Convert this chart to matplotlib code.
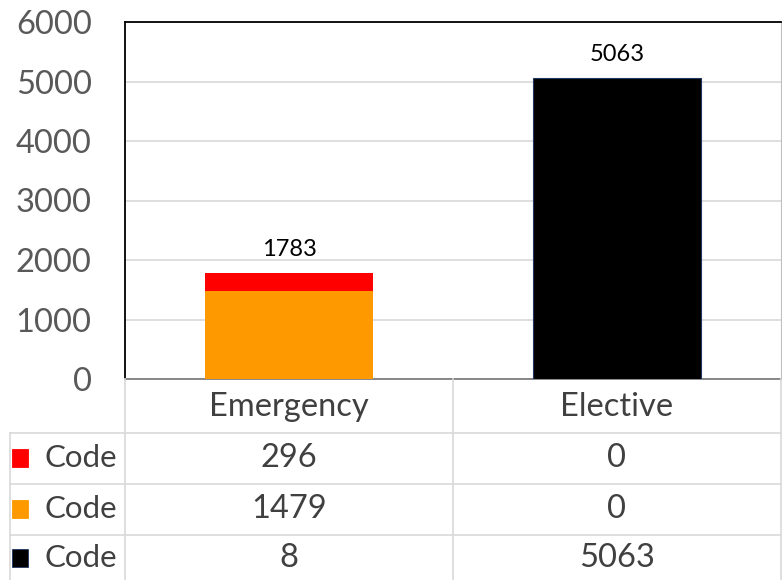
import matplotlib
matplotlib.use("Agg")
import matplotlib.pyplot as plt
from matplotlib.transforms import blended_transform_factory
from matplotlib.patches import Rectangle
from matplotlib.lines import Line2D

categories = ["Emergency", "Elective"]
series_names = ["Code", "Code", "Code"]
red_vals = [296, 0]
orange_vals = [1479, 0]
black_vals = [8, 5063]
totals = [1783, 5063]
yticks = [0, 1000, 2000, 3000, 4000, 5000, 6000]

colors = {"red": "#FF0000", "orange": "#FF9900", "black": "#000000"}

plt.rcParams['font.family'] = ['Lato', 'DejaVu Sans']

W, H = 782, 580
fig = plt.figure(figsize=(W / 100, H / 100), dpi=100)
ax_l, ax_r, ax_t, ax_b = 125, 781, 22, 379
ax = fig.add_axes([ax_l / W, 1 - ax_b / H, (ax_r - ax_l) / W, (ax_b - ax_t) / H])

x = list(range(len(categories)))
bw = 0.51
ax.bar(x, black_vals, bw, color=colors["black"], edgecolor="#1F3864", linewidth=0.8, zorder=3)
b2 = [b for b in black_vals]
ax.bar(x, orange_vals, bw, bottom=b2, color=colors["orange"], zorder=3)
b3 = [b + o for b, o in zip(black_vals, orange_vals)]
ax.bar(x, red_vals, bw, bottom=b3, color=colors["red"], zorder=3)

for xi, t in zip(x, totals):
    ax.annotate(str(t), (xi, t), xytext=(0, 9), textcoords="offset points",
                ha="center", va="bottom", fontsize=17, color="#000000")

ax.set_xlim(-0.5, len(categories) - 0.5)
ax.set_ylim(0, 6000)
ax.set_yticks(yticks)
ax.set_yticklabels([str(v) for v in yticks], fontsize=23.5, color="#595959")
ax.tick_params(axis="y", length=0, pad=24)
ax.set_xticks([])
ax.yaxis.grid(True, color="#D9D9D9", linewidth=1.2, zorder=0)
ax.set_axisbelow(True)
ax.spines["left"].set_color("#000000")
ax.spines["top"].set_color("#000000")
ax.spines["left"].set_linewidth(1.3)
ax.spines["top"].set_linewidth(1.3)
ax.spines["bottom"].set_color("#7F7F7F")
ax.spines["bottom"].set_linewidth(1.3)
ax.spines["right"].set_color("#BFBFBF")

def fy(py):
    return 1 - py / H

trans = blended_transform_factory(ax.transData, fig.transFigure)
ftrans = fig.transFigure
grid_c = "#D9D9D9"

row_edges = [379, 433, 484, 535, 580]

for py in row_edges[1:4]:
    fig.add_artist(Line2D([10 / W, 781 / W], [fy(py), fy(py)], color=grid_c, lw=1.2, transform=ftrans))
fig.add_artist(Line2D([10 / W, 10 / W], [fy(433), fy(580)], color=grid_c, lw=1.2, transform=ftrans))
for i in range(len(categories) + 1):
    xd = i - 0.5
    fig.add_artist(Line2D([xd, xd], [fy(379), fy(580)], color=grid_c, lw=1.2, transform=trans))

for xi, c in zip(x, categories):
    fig.text(xi, fy(407), c, transform=trans, ha="center", va="center", fontsize=23.5, color="#404040")

rows = [(colors["red"], red_vals), (colors["orange"], orange_vals), (colors["black"], black_vals)]
row_centers = [458, 509, 558]
for (col, vals), name, yc in zip(rows, series_names, row_centers):
    fig.add_artist(Rectangle((12 / W, fy(yc + 9)), 16 / W, 18 / H, transform=ftrans,
                             facecolor=col, edgecolor="#1F3864" if col == "#000000" else col, lw=0.6))
    fig.text(45 / W, fy(yc), name, transform=ftrans, ha="left", va="center", fontsize=22.5, color="#404040")
    for xi, v in zip(x, vals):
        fig.text(xi, fy(yc), str(v), transform=trans, ha="center", va="center", fontsize=23.5, color="#404040")

fig.savefig("out.png", dpi=100)
